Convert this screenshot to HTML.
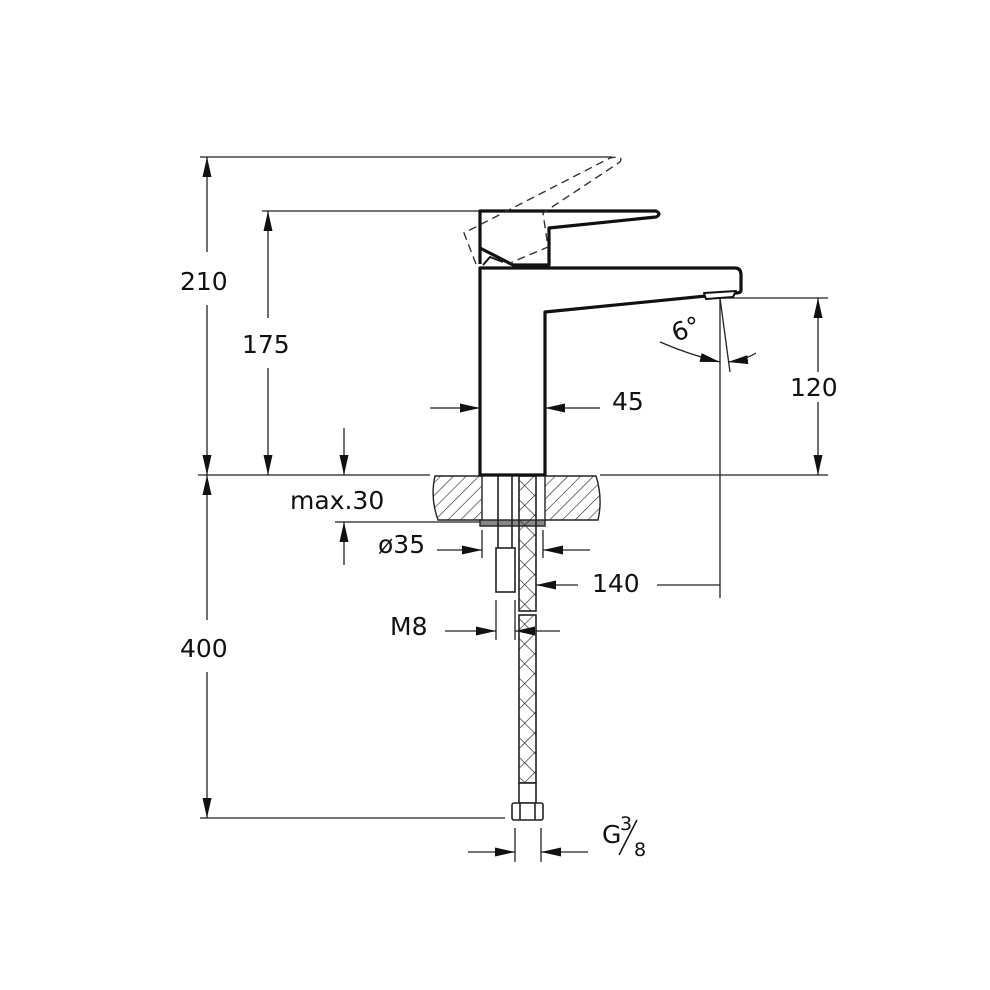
<!DOCTYPE html>
<html><head><meta charset="utf-8"><style>
html,body{margin:0;padding:0;background:#fff}
svg{display:block}
text{font-family:"DejaVu Sans","Liberation Sans",sans-serif;font-size:25px;fill:#111}
</style></head><body>
<svg width="990" height="990" viewBox="0 0 990 990" xmlns="http://www.w3.org/2000/svg">
<defs>
<marker id="a" viewBox="0 0 20 9" refX="20" refY="4.5" markerWidth="20" markerHeight="9" markerUnits="userSpaceOnUse" orient="auto"><path d="M0,0 L20,4.5 L0,9 z" fill="#111"/></marker>
<pattern id="h" width="9" height="9" patternUnits="userSpaceOnUse" patternTransform="rotate(45)"><line x1="0" y1="0" x2="0" y2="9" stroke="#222" stroke-width="1.2"/></pattern>
<pattern id="x" width="14" height="14" patternUnits="userSpaceOnUse" patternTransform="rotate(45)"><line x1="0" y1="0" x2="0" y2="14" stroke="#222" stroke-width="1.3"/><line x1="0" y1="0" x2="14" y2="0" stroke="#222" stroke-width="1.3"/></pattern>
</defs>
<g stroke="#222" stroke-width="1.3" fill="none">
<line x1="200" y1="157" x2="612" y2="157"/>
<line x1="262" y1="211" x2="482" y2="211"/>
<line x1="198" y1="475" x2="430" y2="475"/>
<line x1="600" y1="475" x2="828" y2="475"/>
<line x1="720" y1="298" x2="828" y2="298"/>
<line x1="335" y1="522" x2="482" y2="522"/>
<line x1="200" y1="818" x2="505" y2="818"/>
<line x1="207" y1="252" x2="207" y2="157" marker-end="url(#a)"/>
<line x1="207" y1="305" x2="207" y2="475" marker-end="url(#a)"/>
<line x1="207" y1="620" x2="207" y2="475" marker-end="url(#a)"/>
<line x1="207" y1="672" x2="207" y2="818" marker-end="url(#a)"/>
<line x1="268" y1="318" x2="268" y2="211" marker-end="url(#a)"/>
<line x1="268" y1="368" x2="268" y2="475" marker-end="url(#a)"/>
<line x1="344" y1="428" x2="344" y2="475" marker-end="url(#a)"/>
<line x1="344" y1="565" x2="344" y2="522" marker-end="url(#a)"/>
<line x1="818" y1="372" x2="818" y2="298" marker-end="url(#a)"/>
<line x1="818" y1="402" x2="818" y2="475" marker-end="url(#a)"/>
<line x1="430" y1="408" x2="480" y2="408" marker-end="url(#a)"/>
<line x1="600" y1="408" x2="545" y2="408" marker-end="url(#a)"/>
<line x1="720" y1="298" x2="720" y2="598"/>
<line x1="720" y1="298" x2="730" y2="372"/>
<path d="M660,342 Q690,355 720,362" marker-end="url(#a)"/>
<path d="M756,353 Q745,360 728,362" marker-end="url(#a)"/>
<line x1="578" y1="585" x2="536" y2="585" marker-end="url(#a)"/>
<line x1="657" y1="585" x2="720" y2="585"/>
<line x1="482" y1="530" x2="482" y2="558"/>
<line x1="543" y1="530" x2="543" y2="558"/>
<line x1="437" y1="550" x2="482" y2="550" marker-end="url(#a)"/>
<line x1="590" y1="550" x2="543" y2="550" marker-end="url(#a)"/>
<line x1="496" y1="600" x2="496" y2="640"/>
<line x1="515" y1="600" x2="515" y2="640"/>
<line x1="445" y1="631" x2="496" y2="631" marker-end="url(#a)"/>
<line x1="560" y1="631" x2="515" y2="631" marker-end="url(#a)"/>
<line x1="515" y1="828" x2="515" y2="862"/>
<line x1="541" y1="828" x2="541" y2="862"/>
<line x1="468" y1="852" x2="515" y2="852" marker-end="url(#a)"/>
<line x1="588" y1="852" x2="541" y2="852" marker-end="url(#a)"/>
</g>
<g stroke="#222" stroke-width="1.4">
<path d="M435,476 L482,476 L482,520 L438,520 Q430,498 435,476 z" fill="url(#h)"/>
<path d="M545,476 L596,476 Q603,498 598,520 L545,520 z" fill="url(#h)"/>
<rect x="480" y="520" width="65" height="6" fill="#888"/>
</g>
<g stroke="#222" stroke-width="1.6" fill="#fff">
<line x1="498" y1="476" x2="498" y2="548"/>
<line x1="512" y1="476" x2="512" y2="548"/>
<rect x="496" y="548" width="19" height="44"/>
<rect x="519" y="476" width="17" height="135" fill="url(#x)"/>
<rect x="519" y="615" width="17" height="168" fill="url(#x)"/>
<rect x="519" y="783" width="17" height="20"/>
<rect x="512" y="803" width="31" height="17" rx="2"/>
<line x1="520" y1="803" x2="520" y2="820"/>
<line x1="535" y1="803" x2="535" y2="820"/>
</g>
<g stroke="#111" stroke-width="3.2" fill="#fff" stroke-linejoin="round">
<path d="M480,475 L480,268 L735,268 Q741,268 741,275 L741,290 Q741,293 736,293 L545,312 L545,475 z"/>
<path d="M480,264 L480,211 L656,211 Q662,214 656,217 L549,228 L549,265 L513,265 L480,248" />
<path d="M483,265 L490,257 L503,262" stroke-width="2"/>
<path d="M704,293 L736,291 L733,297 L706,299 z" stroke-width="2"/>
</g>
<path d="M476,264 L464,233 L610,158 Q624,155 620,162 L543,213 L548,247 L510,263" fill="none" stroke="#333" stroke-width="1.4" stroke-dasharray="8,5"/>
<text x="180" y="290">210</text>
<text x="242" y="353">175</text>
<text x="180" y="657">400</text>
<text x="290" y="509">max.30</text>
<text x="378" y="553">ø35</text>
<text x="592" y="592">140</text>
<text x="390" y="635">M8</text>
<text x="612" y="410">45</text>
<text x="790" y="396">120</text>
<text x="672" y="338" transform="rotate(-20 685 330)">6°</text>
<text x="602" y="843">G</text>
<text x="620" y="830" style="font-size:19px">3</text>
<line x1="619" y1="855" x2="637" y2="820" stroke="#111" stroke-width="1.5"/>
<text x="634" y="856" style="font-size:19px">8</text>
</svg>
</body></html>
